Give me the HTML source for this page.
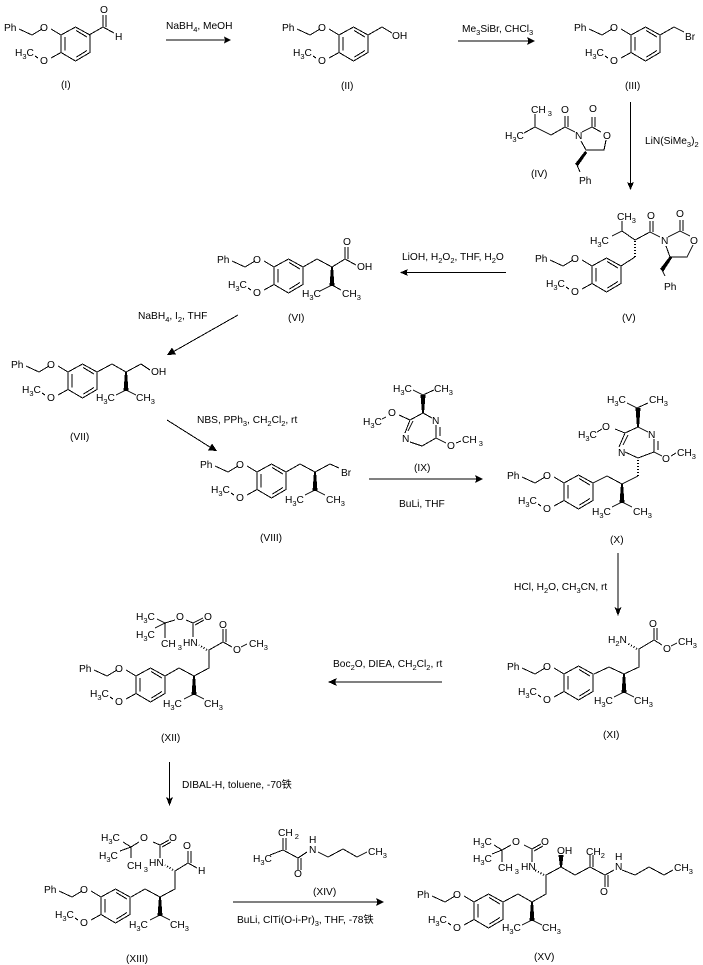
<!DOCTYPE html>
<html><head><meta charset="utf-8"><style>
html,body{margin:0;padding:0;background:#fff}
svg{display:block}
text{font:10.2px "Liberation Sans","Noto Sans CJK SC",sans-serif;fill:#000}
.s{font-size:7.5px}
path{fill:none;stroke:#000;stroke-width:1;shape-rendering:crispEdges}
.h{stroke-width:2;stroke-dasharray:1 2}
polygon{fill:#000;shape-rendering:crispEdges}
</style></head><body>
<svg xmlns="http://www.w3.org/2000/svg" width="703" height="965" viewBox="0 0 703 965">
<defs><g id="ar"><path d="M0 0L14.5-8L29 0V17.5L14.5 26L0 17.5ZM4 2V15.5M15-4.5L26 2M15.5 22L26 15.5M-42-6L-29 0L-19-6M-10-6L0 0M0 17.5L-10 23M-26 21L-23 23"/></g></defs>

<!-- I -->
<use href="#ar" x="61" y="35"/>
<g transform="translate(61,35)"><text x="-57" y="-4">Ph</text><text x="-21" y="-4">O</text><text x="-46" y="21">H<tspan class="s" dy="3">3</tspan><tspan dy="-3">C</tspan></text><text x="-21" y="29">O</text></g>
<path d="M89 35L103 27V15M106 27V15M103 27L114 33"/>
<text x="100" y="13">O</text><text x="115" y="40">H</text>
<text x="61" y="88">(I)</text>
<path d="M166 40H226"/><polygon points="231,40 224,36.5 225,40 224,43.500"/>
<text x="166" y="29">NaBH<tspan class="s" dy="3">4</tspan><tspan dy="-3">, MeOH</tspan></text>

<!-- II -->
<use href="#ar" x="339" y="35"/>
<g transform="translate(339,35)"><text x="-57" y="-4">Ph</text><text x="-21" y="-4">O</text><text x="-46" y="21">H<tspan class="s" dy="3">3</tspan><tspan dy="-3">C</tspan></text><text x="-21" y="29">O</text></g>
<path d="M368 35L382 27L392 33"/>
<text x="392" y="39">OH</text>
<text x="341" y="89">(II)</text>
<path d="M458 41H530"/><polygon points="535,41 527,37 528.500,41 527,45"/>
<text x="462" y="32">Me<tspan class="s" dy="3">3</tspan><tspan dy="-3">SiBr, CHCl</tspan><tspan class="s" dy="3">3</tspan></text>

<!-- III -->
<use href="#ar" x="631" y="35"/>
<g transform="translate(631,35)"><text x="-57" y="-4">Ph</text><text x="-21" y="-4">O</text><text x="-46" y="21">H<tspan class="s" dy="3">3</tspan><tspan dy="-3">C</tspan></text><text x="-21" y="29">O</text></g>
<path d="M660 35L674 27L684 32"/>
<text x="685" y="40">Br</text>
<text x="625" y="89">(III)</text>
<path d="M630.500 102V186"/><polygon points="630.500,190 627,182 630.500,183.500 634,182"/>
<text x="645" y="144">LiN(SiMe<tspan class="s" dy="3">3</tspan><tspan dy="-3">)</tspan><tspan class="s" dy="3">2</tspan></text>

<!-- IV -->
<path d="M524 133L535 127V114M535 127L551 135L565 127V116M568 127V116M565 127L575 132M582 132L592 127V117M595 127V117M592 127L601 132M606 140L604 150H586L581 141M577 165L580 172"/>
<polygon points="585,151 587,153 578,166 575,164"/>
<text x="505" y="139">H<tspan class="s" dy="3">3</tspan><tspan dy="-3">C</tspan></text>
<text x="531" y="113">CH<tspan class="s" dy="3"> 3</tspan></text>
<text x="561" y="113">O</text><text x="589" y="112">O</text><text x="575" y="139">N</text><text x="603" y="139">O</text>
<text x="579" y="184">Ph</text><text x="531" y="177">(IV)</text>

<!-- V -->
<use href="#ar" x="592" y="266"/>
<g transform="translate(592,266)"><text x="-57" y="-4">Ph</text><text x="-21" y="-4">O</text><text x="-46" y="21">H<tspan class="s" dy="3">3</tspan><tspan dy="-3">C</tspan></text><text x="-21" y="29">O</text></g>
<path d="M621 266L635 257"/><path class="h" d="M635 257V241"/>
<path d="M635 240L650 232V221M653 232V221M650 232L660 237M668 237L680 231V220M683 231V220M680 231L690 236M693 245L687 257H670L666 246M662 270L665 276M635 240L622 231V221M622 231L612 236"/>
<polygon points="670,256 672,258 663,272 660,269"/>
<text x="617" y="220">CH<tspan class="s" dy="3">3</tspan></text>
<text x="590" y="244">H<tspan class="s" dy="3">3</tspan><tspan dy="-3">C</tspan></text>
<text x="647" y="219">O</text><text x="676" y="217">O</text><text x="661" y="244">N</text><text x="690" y="244">O</text>
<text x="664" y="290">Ph</text><text x="622" y="321">(V)</text>
<path d="M506 272.500H405"/><polygon points="400,272.500 408,269 406.500,272.500 408,276"/>
<text x="402" y="260">LiOH, H<tspan class="s" dy="3">2</tspan><tspan dy="-3">O</tspan><tspan class="s" dy="3">2</tspan><tspan dy="-3">, THF, H</tspan><tspan class="s" dy="3">2</tspan><tspan dy="-3">O</tspan></text>

<!-- VI -->
<use href="#ar" x="274" y="267"/>
<g transform="translate(274,267)"><text x="-57" y="-4">Ph</text><text x="-21" y="-4">O</text><text x="-46" y="21">H<tspan class="s" dy="3">3</tspan><tspan dy="-3">C</tspan></text><text x="-21" y="29">O</text></g>
<path d="M303 267L317 259L332 267L345 259V247M348 259V247M345 259L356 265M332 285L320 291M332 285L341 290"/>
<polygon points="331,267 333,267 334.500,286 329.500,286"/>
<text x="343" y="245">O</text><text x="357" y="270">OH</text>
<text x="302" y="297">H<tspan class="s" dy="3">3</tspan><tspan dy="-3">C</tspan></text>
<text x="342" y="297">CH<tspan class="s" dy="3">3</tspan></text>
<text x="288" y="321">(VI)</text>
<path d="M238 315L171 353"/><polygon points="167,355 176,354.500 174,351 172,347.500"/>
<text x="138" y="319">NaBH<tspan class="s" dy="3">4</tspan><tspan dy="-3">, I</tspan><tspan class="s" dy="3">2</tspan><tspan dy="-3">, THF</tspan></text>

<!-- VII -->
<use href="#ar" x="68" y="372"/>
<g transform="translate(68,372)"><text x="-57" y="-4">Ph</text><text x="-21" y="-4">O</text><text x="-46" y="21">H<tspan class="s" dy="3">3</tspan><tspan dy="-3">C</tspan></text><text x="-21" y="29">O</text></g>
<path d="M97 372L112 364L126 372L141 364L150 370M126 390L116 395M126 390L136 395"/>
<polygon points="125,372 127,372 128.500,391 123.500,391"/>
<text x="151" y="375">OH</text>
<text x="96" y="401">H<tspan class="s" dy="3">3</tspan><tspan dy="-3">C</tspan></text>
<text x="136" y="401">CH<tspan class="s" dy="3">3</tspan></text>
<text x="70" y="440">(VII)</text>
<path d="M167 420L213 449"/><polygon points="217,451 208,450.400 210,447 212,443.600"/>
<text x="197" y="423">NBS, PPh<tspan class="s" dy="3">3</tspan><tspan dy="-3">, CH</tspan><tspan class="s" dy="3">2</tspan><tspan dy="-3">Cl</tspan><tspan class="s" dy="3">2</tspan><tspan dy="-3">, rt</tspan></text>

<!-- VIII -->
<use href="#ar" x="257" y="472"/>
<g transform="translate(257,472)"><text x="-57" y="-4">Ph</text><text x="-21" y="-4">O</text><text x="-46" y="21">H<tspan class="s" dy="3">3</tspan><tspan dy="-3">C</tspan></text><text x="-21" y="29">O</text></g>
<path d="M286 472L300 464L315 472L330 464L339 468M315 490L305 495M315 490L325 495"/>
<polygon points="314,472 316,472 317.500,491 312.500,491"/>
<text x="341" y="476">Br</text>
<text x="285" y="503">H<tspan class="s" dy="3">3</tspan><tspan dy="-3">C</tspan></text>
<text x="326" y="503">CH<tspan class="s" dy="3">3</tspan></text>
<text x="260" y="541">(VIII)</text>
<path d="M369 479H478"/><polygon points="483,479 475,475 476.500,479 475,483"/>
<text x="399" y="507">BuLi, THF</text>

<!-- IX -->
<path d="M423 395L413 390M423 395L434 390M423 413L432 418M436 425V438M440 427V436M436 438L422 446L410 442M405 433L410 420L423 413M408 431L413 421M410 420L399 415M386 417L382 419M436 438L446 443M456 443L461 441"/>
<polygon points="422,413 424,413 425.500,395 420.500,395"/>
<text x="393" y="392">H<tspan class="s" dy="3">3</tspan><tspan dy="-3">C</tspan></text>
<text x="434" y="392">CH<tspan class="s" dy="3">3</tspan></text>
<text x="388" y="416">O</text><text x="363" y="425">H<tspan class="s" dy="3">3</tspan><tspan dy="-3">C</tspan></text>
<text x="432" y="424">N</text><text x="402" y="442">N</text><text x="447" y="449">O</text>
<text x="462" y="443">CH<tspan class="s" dy="3"> 3</tspan></text>
<text x="414" y="471">(IX)</text>

<!-- X -->
<use href="#ar" x="564" y="483"/>
<g transform="translate(564,483)"><text x="-57" y="-4">Ph</text><text x="-21" y="-4">O</text><text x="-46" y="21">H<tspan class="s" dy="3">3</tspan><tspan dy="-3">C</tspan></text><text x="-21" y="29">O</text></g>
<path d="M593 483L607 476L622 484L638 476"/><path class="h" d="M638 476V459"/>
<path d="M638 458L625 452M619 447L625 433L638 427L648 432M654 439V452M658 441V450M654 452L638 458M623 445L628 435M625 433L615 429M597 432L602 429M654 452L662 456M671 456L676 453M637 408L627 403M637 408L648 403M622 502L612 507M622 502L632 507"/>
<polygon points="637,427 639,427 640.500,408 635.500,408"/>
<polygon points="621,484 623,484 624.500,503 619.500,503"/>
<text x="607" y="403">H<tspan class="s" dy="3">3</tspan><tspan dy="-3">C</tspan></text>
<text x="649" y="403">CH<tspan class="s" dy="3">3</tspan></text>
<text x="602" y="430">O</text><text x="578" y="438">H<tspan class="s" dy="3">3</tspan><tspan dy="-3">C</tspan></text>
<text x="648" y="438">N</text><text x="618" y="456">N</text><text x="662" y="462">O</text>
<text x="677" y="456">CH<tspan class="s" dy="3">3</tspan></text>
<text x="592" y="515">H<tspan class="s" dy="3">3</tspan><tspan dy="-3">C</tspan></text>
<text x="633" y="515">CH<tspan class="s" dy="3">3</tspan></text>
<text x="610" y="543">(X)</text>
<path d="M618 553V611"/><polygon points="618,616 614.500,607 618,609 621.500,607"/>
<text x="514" y="590">HCl, H<tspan class="s" dy="3">2</tspan><tspan dy="-3">O, CH</tspan><tspan class="s" dy="3">3</tspan><tspan dy="-3">CN, rt</tspan></text>

<!-- XI -->
<use href="#ar" x="564" y="674"/>
<g transform="translate(564,674)"><text x="-57" y="-4">Ph</text><text x="-21" y="-4">O</text><text x="-46" y="21">H<tspan class="s" dy="3">3</tspan><tspan dy="-3">C</tspan></text><text x="-21" y="29">O</text></g>
<path d="M594 674L609 667L624 674L639 667V649L654 640V628M657 640V628M654 640L662 645M671 646L677 643M624 692L614 697M624 692L634 697"/>
<path class="h" d="M637 649L627 643"/>
<polygon points="623,674 625,674 626.500,693 621.500,693"/>
<text x="608" y="643">H<tspan class="s" dy="3">2</tspan><tspan dy="-3">N</tspan></text>
<text x="649" y="627">O</text><text x="663" y="652">O</text>
<text x="678" y="645">CH<tspan class="s" dy="3">3</tspan></text>
<text x="594" y="704">H<tspan class="s" dy="3">3</tspan><tspan dy="-3">C</tspan></text>
<text x="634" y="704">CH<tspan class="s" dy="3">3</tspan></text>
<text x="603" y="738">(XI)</text>
<path d="M442 682H334"/><polygon points="328,682 337,678 335,682 337,686"/>
<text x="333" y="667">Boc<tspan class="s" dy="3">2</tspan><tspan dy="-3">O, DIEA, CH</tspan><tspan class="s" dy="3">2</tspan><tspan dy="-3">Cl</tspan><tspan class="s" dy="3">2</tspan><tspan dy="-3">, rt</tspan></text>

<!-- XII -->
<use href="#ar" x="136" y="676"/>
<g transform="translate(136,676)"><text x="-57" y="-4">Ph</text><text x="-21" y="-4">O</text><text x="-46" y="21">H<tspan class="s" dy="3">3</tspan><tspan dy="-3">C</tspan></text><text x="-21" y="29">O</text></g>
<path d="M165 676L179 668L194 676L209 668V650L223 642V629M226 642V629M223 642L232 647M241 647L247 644M193 637V623L203 618M195 625L204 620M193 623L186 620M175 620L165 623M165 623L157 619M165 623L155 628M165 623V638M194 694L184 699M194 694L204 699"/>
<path class="h" d="M207 650L199 645"/>
<polygon points="193,676 195,676 196.500,695 191.500,695"/>
<text x="136" y="620">H<tspan class="s" dy="3">3</tspan><tspan dy="-3">C</tspan></text>
<text x="136" y="638">H<tspan class="s" dy="3">3</tspan><tspan dy="-3">C</tspan></text>
<text x="161" y="647">CH<tspan class="s" dy="3"> 3</tspan></text>
<text x="176" y="620">O</text><text x="204" y="620">O</text><text x="183" y="646">HN</text>
<text x="219" y="628">O</text><text x="233" y="653">O</text>
<text x="249" y="647">CH<tspan class="s" dy="3">3</tspan></text>
<text x="163" y="707">H<tspan class="s" dy="3">3</tspan><tspan dy="-3">C</tspan></text>
<text x="204" y="707">CH<tspan class="s" dy="3">3</tspan></text>
<text x="161" y="741">(XII)</text>
<path d="M169.500 762V802"/><polygon points="169.500,806 166,797 169.500,799 173,797"/>
<text x="182" y="788">DIBAL-H, toluene, -70铁</text>

<!-- XIII -->
<use href="#ar" x="101" y="897"/>
<g transform="translate(101,897)"><text x="-57" y="-4">Ph</text><text x="-21" y="-4">O</text><text x="-46" y="21">H<tspan class="s" dy="3">3</tspan><tspan dy="-3">C</tspan></text><text x="-21" y="29">O</text></g>
<path d="M131 897L145 889L160 897L175 889V871L188 863V851M191 863V851M188 863L197 868M160 858V845L169 840M162 847L171 842M160 845L153 842M139 842L131 847M131 847L123 842M131 847L120 851M131 847V858M160 915L150 920M160 915L170 920"/>
<path class="h" d="M173 870L165 865"/>
<polygon points="159,897 161,897 162.500,916 157.500,916"/>
<text x="101" y="841">H<tspan class="s" dy="3">3</tspan><tspan dy="-3">C</tspan></text>
<text x="99" y="859">H<tspan class="s" dy="3">3</tspan><tspan dy="-3">C</tspan></text>
<text x="127" y="869">CH<tspan class="s" dy="3"> 3</tspan></text>
<text x="140" y="841">O</text><text x="169" y="841">O</text><text x="149" y="866">HN</text>
<text x="183" y="849">O</text><text x="198" y="874">H</text>
<text x="129" y="928">H<tspan class="s" dy="3">3</tspan><tspan dy="-3">C</tspan></text>
<text x="170" y="928">CH<tspan class="s" dy="3">3</tspan></text>
<text x="126" y="962">(XIII)</text>

<!-- XIV -->
<path d="M270 855L283 850V838M286 850V838M283 850L298 858V870M301 858V870M298 858L307 852M318 852L328 857L343 849L357 857L367 852"/>
<text x="253" y="862">H<tspan class="s" dy="3">3</tspan><tspan dy="-3">C</tspan></text>
<text x="278" y="836">CH<tspan class="s" dy="3"> 2</tspan></text>
<text x="294" y="877">O</text><text x="309" y="853">N</text><text x="309" y="843">H</text>
<text x="368" y="855">CH<tspan class="s" dy="3">3</tspan></text>
<text x="313" y="895">(XIV)</text>
<path d="M233 902H379"/><polygon points="384,902 376,898 377.500,902 376,906"/>
<text x="237" y="923">BuLi, ClTi(O-i-Pr)<tspan class="s" dy="3">3</tspan><tspan dy="-3">, THF, -78铁</tspan></text>

<!-- XV -->
<use href="#ar" x="474" y="902"/>
<g transform="translate(474,902)"><text x="-57" y="-4">Ph</text><text x="-21" y="-4">O</text><text x="-46" y="21">H<tspan class="s" dy="3">3</tspan><tspan dy="-3">C</tspan></text><text x="-21" y="29">O</text></g>
<path d="M503 902L518 894L532 902L546 894V875L561 867L575 875L590 867V855M593 867V855M590 867L605 875V887M608 875V887M605 875L614 870M622 870L635 875L649 867L664 875L673 870M532 862V849L541 844M534 851L543 846M532 849L524 845M511 845L502 850M502 850L494 845M502 850L492 854M502 850V862M532 920L522 925M532 920L542 925"/>
<path class="h" d="M544 875L535 870"/>
<polygon points="531,902 533,902 534.500,921 529.500,921"/>
<polygon points="560,867 562,867 563.500,855 558.500,855"/>
<text x="473" y="845">H<tspan class="s" dy="3">3</tspan><tspan dy="-3">C</tspan></text>
<text x="473" y="862">H<tspan class="s" dy="3">3</tspan><tspan dy="-3">C</tspan></text>
<text x="498" y="871">CH<tspan class="s" dy="3"> 3</tspan></text>
<text x="512" y="845">O</text><text x="541" y="845">O</text><text x="521" y="870">HN</text>
<text x="557" y="854">OH</text>
<text x="586" y="855">CH<tspan class="s" dy="3">2</tspan></text>
<text x="600" y="895">O</text><text x="615" y="870">N</text><text x="615" y="860">H</text>
<text x="674" y="871">CH<tspan class="s" dy="3">3</tspan></text>
<text x="502" y="931">H<tspan class="s" dy="3">3</tspan><tspan dy="-3">C</tspan></text>
<text x="542" y="931">CH<tspan class="s" dy="3">3</tspan></text>
<text x="534" y="960">(XV)</text>
</svg>
</body></html>
